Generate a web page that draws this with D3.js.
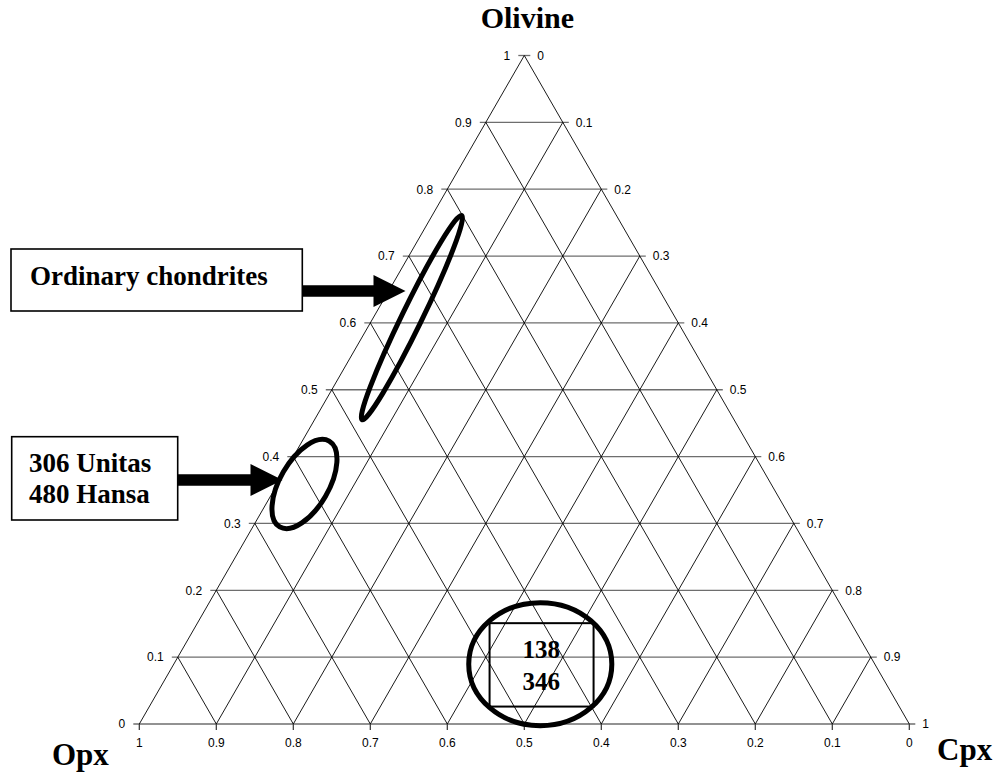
<!DOCTYPE html>
<html>
<head>
<meta charset="utf-8">
<script src="https://cdn.jsdelivr.net/npm/d3@7"></script>
<style>
  html, body { margin: 0; padding: 0; background: #fff; }
  svg { display: block; }
</style>
</head>
<body>
<script>
// Ternary diagram: Olivine (top) – Opx (bottom left) – Cpx (bottom right)

// Grid levels (fraction of each end-member)
const levels = [0, 0.1, 0.2, 0.3, 0.4, 0.5, 0.6, 0.7, 0.8, 0.9, 1];
const levelLabels = ["0", "0.1", "0.2", "0.3", "0.4", "0.5", "0.6", "0.7", "0.8", "0.9", "1"];

// Apex names
const apexNames = { top: "Olivine", left: "Opx", right: "Cpx" };

// Compositional fields (centre given as olivine and cpx fractions,
// semi-axes in fractions of the triangle side, tilt in degrees)
const fieldNames = ["Ordinary chondrites", "306 Unitas / 480 Hansa", "138 / 346"];
const fieldOlivine = [0.608, 0.359, 0.0895];
const fieldCpx = [0.050, 0.035, 0.476];
const fieldSemiMajor = [0.1475, 0.0643, 0.0929];
const fieldSemiMinor = [0.0130, 0.0316, 0.0799];
const fieldTilt = [-64, -60, 0];

// Callout boxes
const calloutLines = [["Ordinary chondrites"], ["306 Unitas", "480 Hansa"]];
const boxedLabel = ["138", "346"];

const W = 993, H = 772;
const svg = d3.select("body").append("svg").attr("width", W).attr("height", H);
svg.append("rect").attr("width", W).attr("height", H).attr("fill", "#fff");

const sx = d3.scaleLinear().domain([0, 1]).range([139.3, 909.3]);
const sy = d3.scaleLinear().domain([0, 1]).range([724, 55.5]);
const side = sx(1) - sx(0);
const proj = (ol, cpx) => [sx(cpx + ol / 2), sy(ol)];

const serif = "'Liberation Serif', 'Times New Roman', serif";
const sans = "'Liberation Sans', Arial, sans-serif";

const grid = svg.append("g");
const tickLen = 6;

// Horizontal (iso-olivine) lines with ticks on both sides
levels.forEach((t, i) => {
  const l = proj(t, 0), r = proj(t, 1 - t);
  grid.append("line")
    .attr("x1", l[0] - tickLen).attr("x2", r[0] + tickLen)
    .attr("y1", l[1]).attr("y2", r[1])
    .attr("stroke", "#6e6e6e").attr("stroke-width", 1.3);
  grid.append("text")
    .attr("x", l[0] - tickLen - 8).attr("y", l[1] + 4.3)
    .attr("text-anchor", "end")
    .attr("font-family", sans).attr("font-size", 12)
    .text(levelLabels[i]);
  grid.append("text")
    .attr("x", r[0] + tickLen + 7).attr("y", r[1] + 4.3)
    .attr("text-anchor", "start")
    .attr("font-family", sans).attr("font-size", 12)
    .text(levelLabels[levels.length - 1 - i]);
});

// Lines of constant cpx (parallel to the left edge) and constant opx (parallel to the right edge)
levels.forEach(c => {
  if (c < 1) {
    const a = proj(0, c), b = proj(1 - c, c);
    grid.append("line").attr("x1", a[0]).attr("y1", a[1]).attr("x2", b[0]).attr("y2", b[1])
      .attr("stroke", "#000").attr("stroke-width", 0.9);
  }
  if (c > 0) {
    const a = proj(0, c), b = proj(c, 0);
    grid.append("line").attr("x1", a[0]).attr("y1", a[1]).attr("x2", b[0]).attr("y2", b[1])
      .attr("stroke", "#000").attr("stroke-width", 0.9);
  }
});

// Bottom axis ticks and labels (Opx fraction)
levels.forEach((c, i) => {
  const p = proj(0, c);
  grid.append("line").attr("x1", p[0]).attr("x2", p[0]).attr("y1", p[1]).attr("y2", p[1] + tickLen)
    .attr("stroke", "#333").attr("stroke-width", 1.2);
  grid.append("text")
    .attr("x", p[0]).attr("y", p[1] + 23)
    .attr("text-anchor", "middle")
    .attr("font-family", sans).attr("font-size", 12)
    .text(levelLabels[levels.length - 1 - i]);
});

// Apex names
const apexTop = proj(1, 0);
svg.append("text").attr("x", apexTop[0] + 3).attr("y", 28).attr("text-anchor", "middle")
  .attr("font-family", serif).attr("font-weight", "bold").attr("font-size", 30)
  .text(apexNames.top);
svg.append("text").attr("x", 52).attr("y", 765).attr("text-anchor", "start")
  .attr("font-family", serif).attr("font-weight", "bold").attr("font-size", 31)
  .text(apexNames.left);
svg.append("text").attr("x", 937).attr("y", 760).attr("text-anchor", "start")
  .attr("font-family", serif).attr("font-weight", "bold").attr("font-size", 31)
  .text(apexNames.right);

// Compositional fields
const fields = svg.append("g");
fieldNames.forEach((name, i) => {
  const c = proj(fieldOlivine[i], fieldCpx[i]);
  fields.append("ellipse")
    .attr("transform", `translate(${c[0]},${c[1]}) rotate(${fieldTilt[i]})`)
    .attr("rx", fieldSemiMajor[i] * side).attr("ry", fieldSemiMinor[i] * side)
    .attr("fill", "none").attr("stroke", "#000").attr("stroke-width", 5);
});

// Box with sample numbers inside the low-olivine field
const lowField = proj(fieldOlivine[2], fieldCpx[2]);
fields.append("rect")
  .attr("x", lowField[0] - 50.7).attr("y", lowField[1] - 41)
  .attr("width", 104).attr("height", 83.4)
  .attr("fill", "none").attr("stroke", "#000").attr("stroke-width", 2);
boxedLabel.forEach((s, i) => {
  fields.append("text")
    .attr("x", lowField[0] + 1).attr("y", lowField[1] - 6 + i * 32)
    .attr("text-anchor", "middle")
    .attr("font-family", serif).attr("font-weight", "bold").attr("font-size", 25)
    .text(s);
});

// Callouts with arrows
const callouts = [
  { box: [11, 249, 291.3, 62], textX: 30, baselines: [285], arrowY: 291, tipX: 405.5, shaftFrom: 302.3 },
  { box: [11.7, 436.7, 166, 83.3], textX: 29, baselines: [471.7, 503], arrowY: 480, tipX: 282.5, shaftFrom: 177.7 }
];
callouts.forEach((co, i) => {
  const g = svg.append("g");
  g.append("rect").attr("x", co.box[0]).attr("y", co.box[1])
    .attr("width", co.box[2]).attr("height", co.box[3])
    .attr("fill", "#fff").attr("stroke", "#000").attr("stroke-width", 1.6);
  calloutLines[i].forEach((line, j) => {
    g.append("text").attr("x", co.textX).attr("y", co.baselines[j])
      .attr("font-family", serif).attr("font-weight", "bold").attr("font-size", 27)
      .text(line);
  });
  const hw = 5.8, headH = 16, headL = 32;
  const baseX = co.tipX - headL, y = co.arrowY;
  const pts = [
    [co.shaftFrom, y - hw], [baseX, y - hw], [baseX, y - headH], [co.tipX, y],
    [baseX, y + headH], [baseX, y + hw], [co.shaftFrom, y + hw]
  ];
  g.append("path").attr("d", d3.line()(pts) + "Z").attr("fill", "#000");
});
</script>
</body>
</html>
